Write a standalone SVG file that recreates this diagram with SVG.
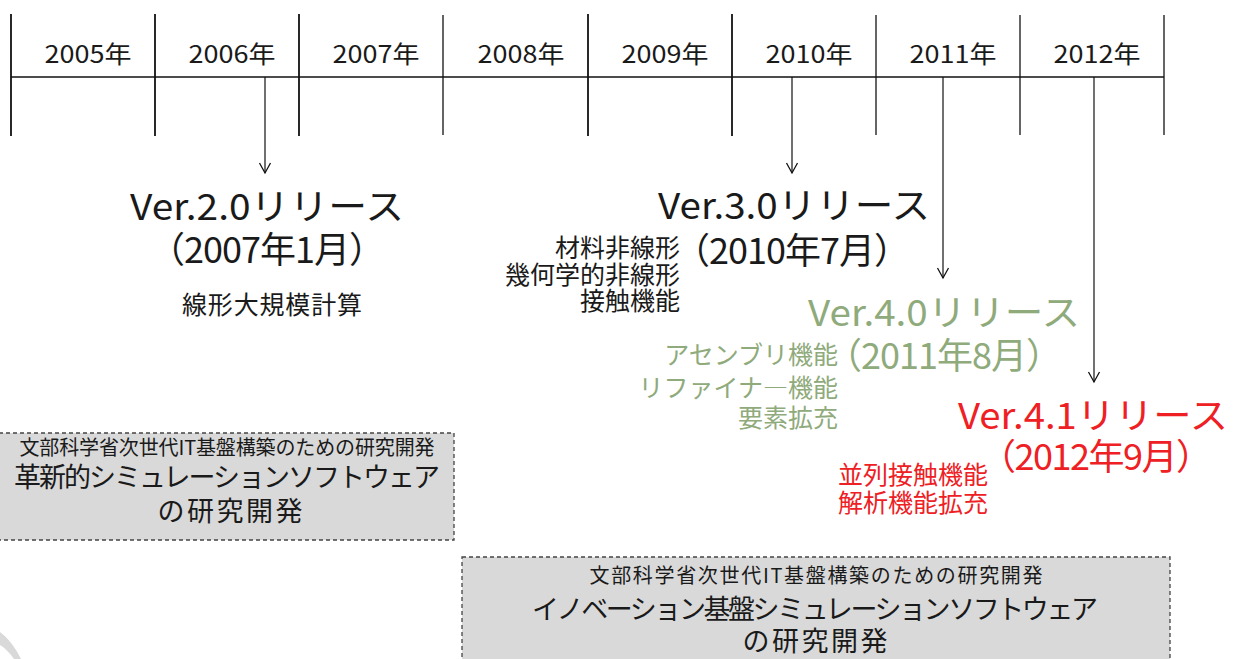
<svg xmlns="http://www.w3.org/2000/svg" width="1235" height="659" viewBox="0 0 1235 659">
<style>
  text { font-family: "Noto Sans CJK JP", "Noto Sans", sans-serif; fill: #1a1a1a; }
  .yr { font-size: 24px; text-anchor: middle; }
  .big { font-size: 36px; }
  .mid { font-size: 25px; }
  .green { fill: #8faa7b; }
  .red { fill: #ee2024; }
  .end { text-anchor: end; }
  .ctr { text-anchor: middle; }
  .tick { stroke: #111; stroke-width: 1.8; }
  .tick2 { stroke: #111; stroke-width: 1.3; }
  .conn { stroke: #111; stroke-width: 1.2; fill: none; marker-end: url(#arr); }
  .box { fill: #d9d9d9; stroke: #444; stroke-width: 1.3; stroke-dasharray: 4 3; }
  .sm { font-size: 20px; }
  .bx { font-size: 27px; }
</style>
<defs>
  <marker id="arr" markerUnits="userSpaceOnUse" markerWidth="14" markerHeight="14" viewBox="-12 -7 14 14" refX="0" refY="0" orient="auto">
    <path d="M-10,-5.5 L0,0 L-10,5.5" fill="none" stroke="#111" stroke-width="1.3"/>
  </marker>
</defs>
<rect width="1235" height="659" fill="#ffffff"/>

<g id="timeline">
  <line x1="11" y1="77" x2="1164" y2="77" stroke="#111" stroke-width="1.5"/>
  <line class="tick" x1="11" y1="14" x2="11" y2="136"/>
  <line class="tick" x1="155" y1="14" x2="155" y2="136"/>
  <line class="tick" x1="299" y1="14" x2="299" y2="136"/>
  <line class="tick2" x1="443" y1="15" x2="443" y2="135"/>
  <line class="tick" x1="588" y1="14" x2="588" y2="136"/>
  <line class="tick" x1="732" y1="14" x2="732" y2="136"/>
  <line class="tick2" x1="876" y1="15" x2="876" y2="135"/>
  <line class="tick2" x1="1020" y1="15" x2="1020" y2="135"/>
  <line class="tick2" x1="1164" y1="15" x2="1164" y2="135"/>
  <text class="yr" x="88" y="63" textLength="87" lengthAdjust="spacingAndGlyphs">2005年</text>
  <text class="yr" x="232" y="63" textLength="87" lengthAdjust="spacingAndGlyphs">2006年</text>
  <text class="yr" x="376" y="63" textLength="87" lengthAdjust="spacingAndGlyphs">2007年</text>
  <text class="yr" x="521" y="63" textLength="87" lengthAdjust="spacingAndGlyphs">2008年</text>
  <text class="yr" x="665" y="63" textLength="87" lengthAdjust="spacingAndGlyphs">2009年</text>
  <text class="yr" x="809" y="63" textLength="87" lengthAdjust="spacingAndGlyphs">2010年</text>
  <text class="yr" x="953" y="63" textLength="87" lengthAdjust="spacingAndGlyphs">2011年</text>
  <text class="yr" x="1097" y="63" textLength="87" lengthAdjust="spacingAndGlyphs">2012年</text>
</g>

<g id="connectors">
  <path class="conn" d="M265,77 V173"/>
  <path class="conn" d="M792,77 V173"/>
  <path class="conn" d="M943,77 V278"/>
  <path class="conn" d="M1094,77 V382"/>
</g>

<g id="ver20">
  <text class="big" x="130" y="220" textLength="274" lengthAdjust="spacingAndGlyphs">Ver.2.0リリース</text>
  <text class="big" x="149" y="263" textLength="236" lengthAdjust="spacing">（2007年1月）</text>
  <text class="mid" x="182" y="314" textLength="180" lengthAdjust="spacing">線形大規模計算</text>
</g>

<g id="ver30">
  <text class="big" x="658" y="219" textLength="272" lengthAdjust="spacingAndGlyphs">Ver.3.0リリース</text>
  <text class="big" x="674" y="264" textLength="236" lengthAdjust="spacing">（2010年7月）</text>
  <text class="mid end" x="680" y="257">材料非線形</text>
  <text class="mid end" x="680" y="284">幾何学的非線形</text>
  <text class="mid end" x="680" y="310">接触機能</text>
</g>

<g id="ver40">
  <text class="big green" x="808" y="326" textLength="272" lengthAdjust="spacingAndGlyphs">Ver.4.0リリース</text>
  <text class="big green" x="826" y="369" textLength="236" lengthAdjust="spacing">（2011年8月）</text>
  <text class="mid green end" x="838" y="364">アセンブリ機能</text>
  <text class="mid green end" x="838" y="397">リファイナ―機能</text>
  <text class="mid green end" x="838" y="427">要素拡充</text>
</g>

<g id="ver41">
  <text class="big red" x="958" y="429" textLength="270" lengthAdjust="spacingAndGlyphs">Ver.4.1リリース</text>
  <text class="big red" x="980" y="470" textLength="232" lengthAdjust="spacing">（2012年9月）</text>
  <text class="mid red end" x="988" y="484">並列接触機能</text>
  <text class="mid red end" x="988" y="512">解析機能拡充</text>
</g>

<g id="project1">
  <rect class="box" x="-1" y="433" width="455" height="107"/>
  <text class="sm ctr" x="227" y="455" textLength="415" lengthAdjust="spacing">文部科学省次世代IT基盤構築のための研究開発</text>
  <text class="bx ctr" x="227" y="487" textLength="426" lengthAdjust="spacing">革新的シミュレーションソフトウェア</text>
  <text class="bx ctr" x="230" y="521" textLength="145" lengthAdjust="spacing">の研究開発</text>
</g>

<g id="project2">
  <rect class="box" x="462" y="557" width="708" height="112"/>
  <text class="sm ctr" x="816" y="583" textLength="453" lengthAdjust="spacing">文部科学省次世代IT基盤構築のための研究開発</text>
  <text class="bx ctr" x="815" y="619" textLength="566" lengthAdjust="spacing">イノベーション基盤シミュレーションソフトウェア</text>
  <text class="bx ctr" x="815" y="651" textLength="145" lengthAdjust="spacing">の研究開発</text>
</g>

<path d="M0,632 C8,638 15,647 21,659 L14,659 C10,653 5,648 0,645 Z" fill="#d9d9d9"/>
</svg>
